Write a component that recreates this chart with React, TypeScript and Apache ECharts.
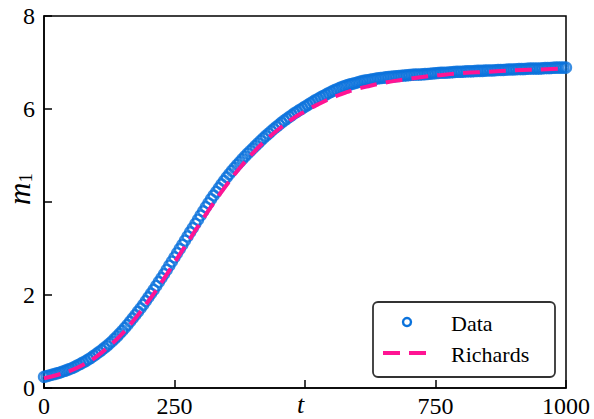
import React, { useEffect, useRef } from "react";
import * as echarts from "echarts";

// sampling times of the measured data: 0, 5, 10, ..., 1000
const dataT: number[] = Array.from({ length: 201 }, (_, i) => i * 5);
const dataM: number[] = [
  0.24, 0.255, 0.27, 0.285, 0.3, 0.315, 0.33, 0.35, 0.37, 0.39,
  0.41, 0.435, 0.46, 0.49, 0.52, 0.55, 0.58, 0.615, 0.65, 0.69,
  0.73, 0.77, 0.81, 0.855, 0.9, 0.95, 1.0, 1.055, 1.11, 1.17,
  1.23, 1.295, 1.36, 1.43, 1.5, 1.57, 1.64, 1.715, 1.79, 1.87,
  1.95, 2.03, 2.11, 2.195, 2.28, 2.365, 2.45, 2.54, 2.63, 2.72,
  2.81, 2.9, 2.99, 3.08, 3.17, 3.26, 3.35, 3.44, 3.53, 3.62,
  3.71, 3.8, 3.89, 3.975, 4.06, 4.14, 4.22, 4.3, 4.38, 4.455,
  4.53, 4.6, 4.67, 4.735, 4.8, 4.86, 4.92, 4.98, 5.04, 5.095,
  5.15, 5.205, 5.26, 5.315, 5.37, 5.42, 5.47, 5.52, 5.57, 5.615,
  5.66, 5.705, 5.75, 5.79, 5.83, 5.87, 5.91, 5.945, 5.98, 6.015,
  6.05, 6.085, 6.12, 6.155, 6.19, 6.22, 6.25, 6.28, 6.31, 6.34,
  6.37, 6.395, 6.42, 6.445, 6.47, 6.49, 6.51, 6.525, 6.54, 6.555,
  6.57, 6.585, 6.6, 6.61, 6.62, 6.63, 6.64, 6.65, 6.66, 6.665,
  6.67, 6.68, 6.69, 6.695, 6.7, 6.705, 6.71, 6.715, 6.72, 6.725,
  6.73, 6.735, 6.74, 6.74, 6.74, 6.745, 6.75, 6.755, 6.76, 6.765,
  6.77, 6.775, 6.78, 6.78, 6.78, 6.785, 6.79, 6.795, 6.8, 6.8,
  6.8, 6.805, 6.81, 6.81, 6.81, 6.815, 6.82, 6.82, 6.82, 6.825,
  6.83, 6.83, 6.83, 6.835, 6.84, 6.84, 6.84, 6.845, 6.85, 6.85,
  6.85, 6.855, 6.86, 6.86, 6.86, 6.865, 6.87, 6.87, 6.87, 6.87,
  6.87, 6.875, 6.88, 6.88, 6.88, 6.885, 6.89, 6.89, 6.89, 6.89,
  6.89,
];

const richT: number[] = [
  0, 25, 50, 75, 100, 125, 150, 175, 200, 225, 250, 275, 300, 325, 350, 375, 400, 425, 450, 475,
  500, 525, 550, 575, 600, 625, 650, 675, 700, 725, 750, 800, 850, 900, 950, 1000,
];
const richM: number[] = [
  0.21, 0.28, 0.37, 0.5, 0.67, 0.9, 1.17, 1.5, 1.87, 2.27, 2.7, 3.13, 3.56, 3.98, 4.37, 4.73, 5.05, 5.33, 5.57, 5.78,
  5.95, 6.1, 6.23, 6.34, 6.43, 6.5, 6.56, 6.61, 6.65, 6.69, 6.72, 6.77, 6.8, 6.83, 6.85, 6.87,
];

const xTicks: number[] = [0, 250, 500, 750, 1000];
const yTicks: number[] = [0, 2, 4, 6, 8];
const xLabelHidden = 500;
const yLabelHidden = 4;
const legendNames: string[] = ["Data", "Richards"];

const BLUE = "#0a72dc";
const PINK = "#ff1493";
const FONT = "'Liberation Serif', 'DejaVu Serif', serif";

export default function App() {
  const ref = useRef<HTMLDivElement>(null);
  useEffect(() => {
    if (!ref.current) return;
    const chart = echarts.init(ref.current, undefined, { renderer: "svg" });
    chart.setOption({
      animation: false,
      backgroundColor: "#fff",
      grid: {
        left: 44,
        right: 28,
        top: 16,
        bottom: 31,
        show: true,
        borderColor: "#000",
        borderWidth: 1.5,
        backgroundColor: "transparent",
      },
      xAxis: {
        type: "value",
        min: xTicks[0],
        max: xTicks[xTicks.length - 1],
        interval: 250,
        axisLine: { show: true, onZero: false, lineStyle: { color: "#000", width: 1.5 } },
        axisTick: { show: true, inside: true, length: 8, lineStyle: { color: "#000", width: 1.5 } },
        splitLine: { show: false },
        axisLabel: {
          color: "#000",
          fontFamily: FONT,
          fontSize: 24,
          margin: 6,
          formatter: (v: number) => (v === xLabelHidden ? "" : String(v)),
        },
      },
      yAxis: {
        type: "value",
        min: yTicks[0],
        max: yTicks[yTicks.length - 1],
        interval: 2,
        axisLine: { show: true, onZero: false, lineStyle: { color: "#000", width: 1.5 } },
        axisTick: { show: true, inside: true, length: 8, lineStyle: { color: "#000", width: 1.5 } },
        splitLine: { show: false },
        axisLabel: {
          color: "#000",
          fontFamily: FONT,
          fontSize: 24,
          margin: 9,
          formatter: (v: number) => (v === yLabelHidden ? "" : String(v)),
        },
      },
      series: [
        {
          name: legendNames[0],
          type: "scatter",
          data: dataT.map((t, i) => [t, dataM[i]]),
          symbol: "circle",
          symbolSize: 10,
          itemStyle: { color: "rgba(0,0,0,0)", borderColor: BLUE, borderWidth: 2.4 },
          z: 2,
        },
        {
          name: legendNames[1],
          type: "line",
          data: richT.map((t, i) => [t, richM[i]]),
          smooth: true,
          showSymbol: false,
          lineStyle: { color: PINK, width: 4, type: [17, 9] },
          z: 3,
        },
      ],
      graphic: [
        {
          type: "text",
          left: 297,
          top: 391,
          style: { text: "t", font: `italic 26px ${FONT}`, fill: "#000" },
        },
        {
          type: "text",
          x: 19,
          y: 189,
          rotation: Math.PI / 2,
          style: {
            text: "{a|m}{b|1}",
            fill: "#000",
            align: "center",
            verticalAlign: "middle",
            rich: {
              a: { font: `italic 31px ${FONT}`, fill: "#000" },
              b: { font: `19px ${FONT}`, fill: "#000", padding: [12, 0, 0, 0] },
            },
          },
        },
        {
          type: "rect",
          shape: { x: 373, y: 302, width: 182, height: 75, r: 5 },
          style: { fill: "#fff", stroke: "#333", lineWidth: 1.8 },
          z: 10,
        },
        {
          type: "circle",
          shape: { cx: 407, cy: 322, r: 4 },
          style: { fill: "none", stroke: BLUE, lineWidth: 2.4 },
          z: 11,
        },
        {
          type: "line",
          shape: { x1: 383, y1: 353, x2: 431, y2: 353 },
          style: { stroke: PINK, lineWidth: 4, lineDash: [17, 9] },
          z: 11,
        },
        {
          type: "text",
          x: 451,
          y: 323,
          style: { text: legendNames[0], font: `22px ${FONT}`, fill: "#000", verticalAlign: "middle" },
          z: 11,
        },
        {
          type: "text",
          x: 451,
          y: 354,
          style: { text: legendNames[1], font: `22px ${FONT}`, fill: "#000", verticalAlign: "middle" },
          z: 11,
        },
      ],
    });
    return () => chart.dispose();
  }, []);
  return (
    <div
      ref={ref}
      style={{ position: "fixed", left: 0, top: 0, width: 594, height: 419 }}
    />
  );
}
